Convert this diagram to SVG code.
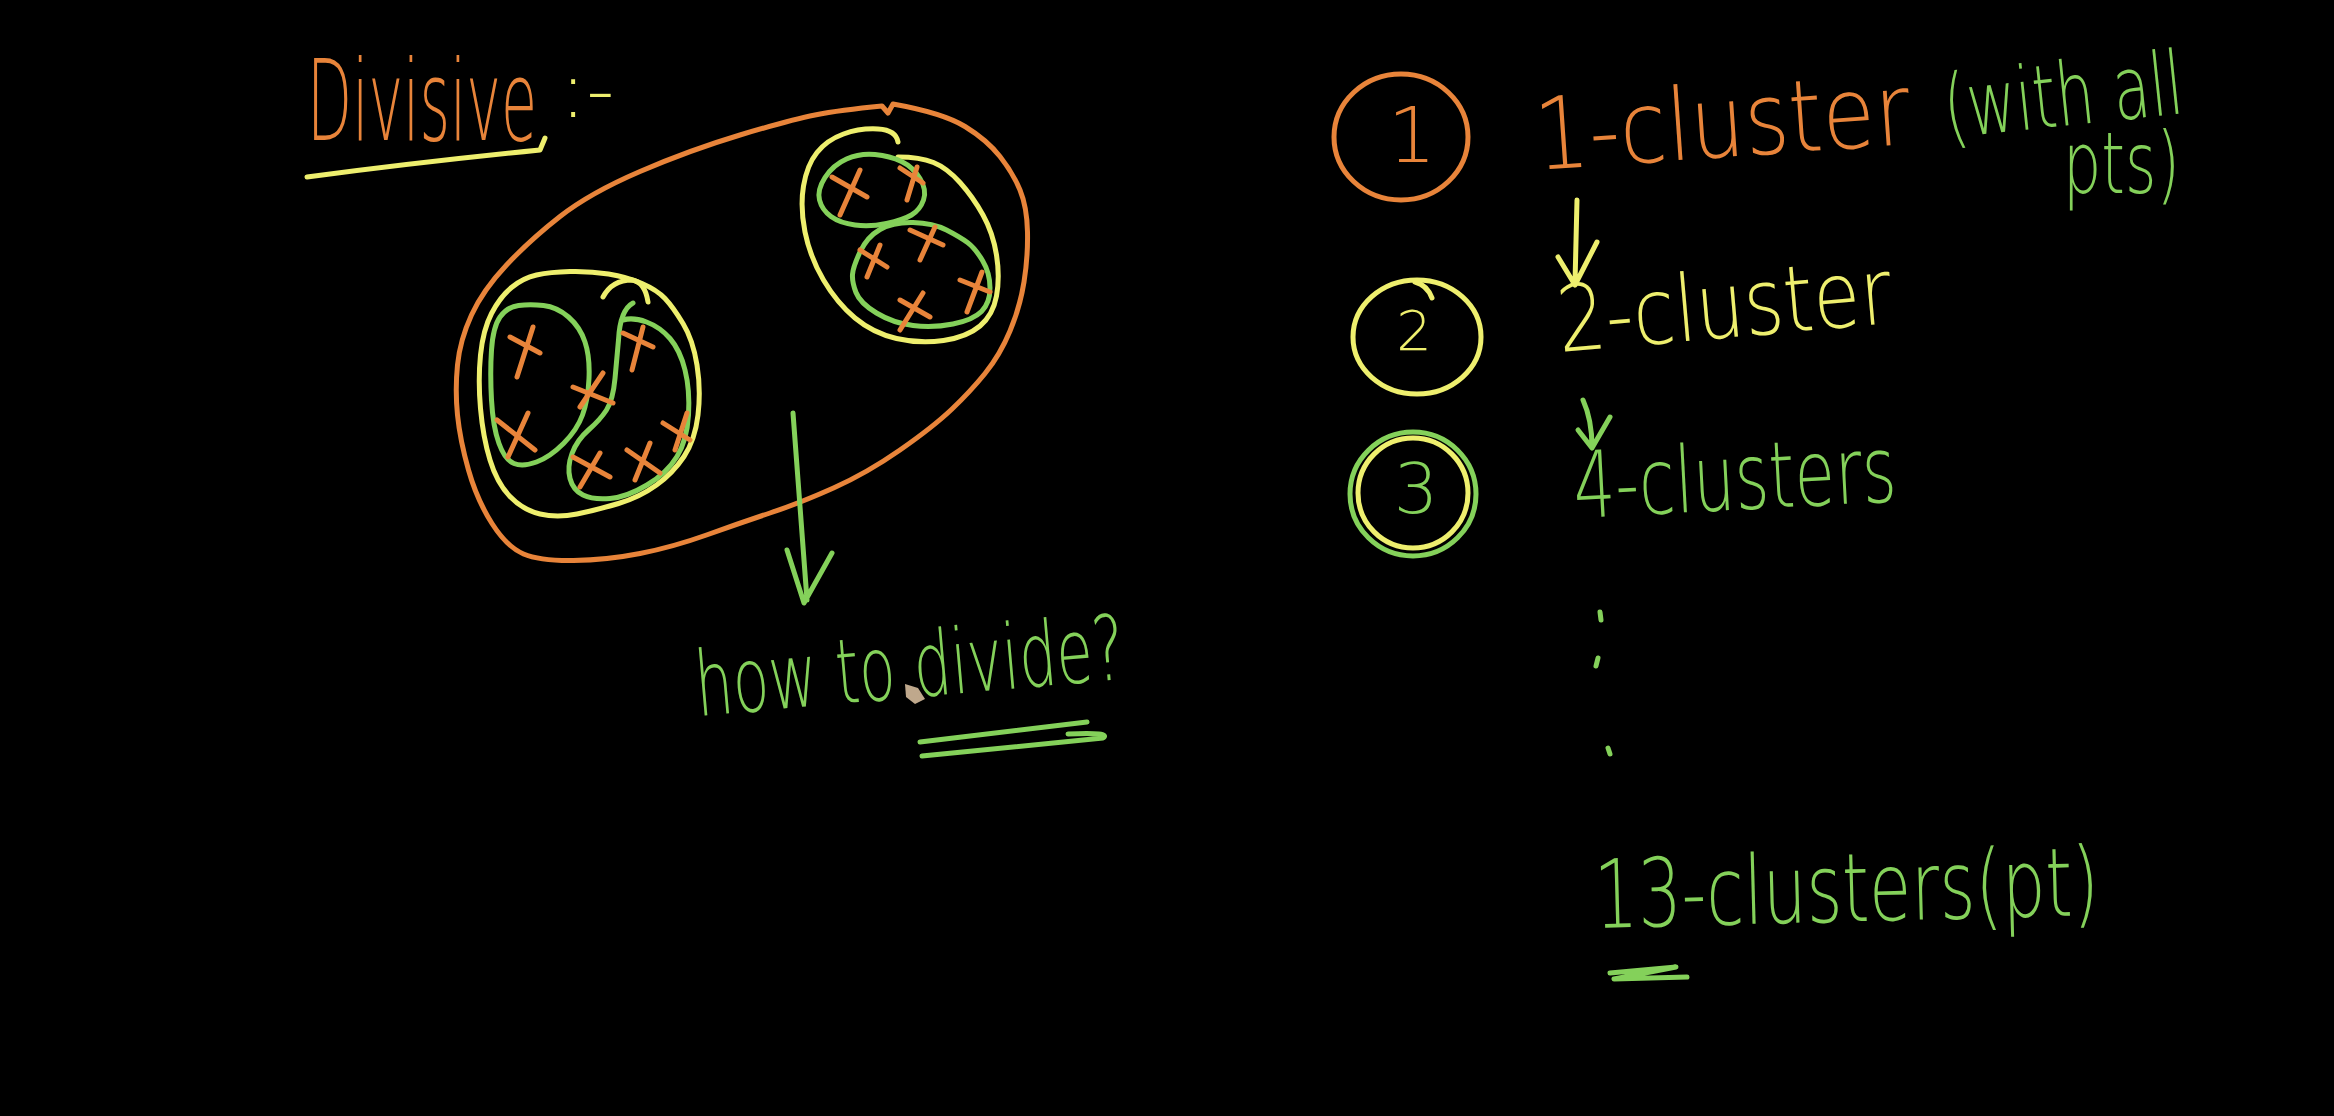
<svg xmlns="http://www.w3.org/2000/svg" width="2334" height="1116" viewBox="0 0 2334 1116">
<style>
.s{fill:none;stroke-width:5;stroke-linecap:round;stroke-linejoin:round}
.o{stroke:#E8843A}
.y{stroke:#EEEF6E}
.g{stroke:#84D15A}
.t{font-family:"DejaVu Sans","Liberation Sans",sans-serif;font-weight:200}
.to{fill:#E8843A}
.ty{fill:#EEEF6E}
.tg{fill:#84D15A}
</style>
<rect x="0" y="0" width="2334" height="1116" fill="#000"/>

<g id="title">
  <text class="t to" x="307" y="140" font-size="112" textLength="230" lengthAdjust="spacingAndGlyphs">Divisive</text>
  <text class="t ty" x="560" y="117" font-size="78">:-</text>
  <path class="s y" d="M307,177 Q420,162 540,150 L545,138"/>
</g>

<g id="cluster-all">
  <path class="s o" d="M888,113 L893,104 Q943,113 965,126.5 Q987,140 1000,156.5 Q1013,173 1020,190 Q1027,207 1027.5,232 Q1028,257 1024,282 Q1020,307 1010,331 Q1000,355 985,373.5 Q970,392 951.5,409.5 Q933,427 900,450 Q867,473 833.5,488 Q800,503 770,513 Q740,523 706.5,535 Q673,547 640,553.5 Q607,560 573.5,560.5 Q540,561 523.5,554 Q507,547 492,523.5 Q477,500 468.5,470 Q460,440 457.5,415 Q455,390 457.5,365 Q460,340 471.5,315 Q483,290 506.5,265 Q530,240 560,216.5 Q590,193 640,171.5 Q690,150 740,135 Q790,120 815,115 Q840,110 882,106 L888,113"/>
</g>

<g id="cluster-left">
  <path class="s y" d="M536.5,275 Q550,272 570,271.5 Q590,271 608.5,274 Q627,277 642,283.5 Q657,290 665,298.5 Q673,307 683,323.5 Q693,340 697,365 Q701,390 698,415 Q695,440 684,456.5 Q673,473 656.5,485 Q640,497 618.5,503.5 Q597,510 577,514 Q557,518 540,514 Q523,510 510,496.5 Q497,483 490,460 Q483,437 480.5,408.5 Q478,380 480.5,355 Q483,330 491.5,313.5 Q500,297 511.5,287.5 Q523,278 536.5,275 Z"/>
  <path class="s y" d="M603,297 Q612,280 632,280 Q645,282 648,302"/>
  <path class="s g" d="M518.5,305.5 Q530,304 543.5,305.5 Q557,307 568.5,317 Q580,327 585,342 Q590,357 589,378.5 Q588,400 582.5,415 Q577,430 563.5,443.5 Q550,457 536.5,462 Q523,467 514,463.5 Q505,460 499,443.5 Q493,427 491.5,400 Q490,373 491.5,350 Q493,327 500,317 Q507,307 518.5,305.5 Z"/>
  <path class="s g" d="M633,303 Q620,310 618.5,340 Q617,357 615,378.5 Q613,400 606.5,410 Q600,420 588.5,430 Q577,440 572,453.5 Q567,467 570,478.5 Q573,490 583,495 Q593,500 610,498.5 Q627,497 647,485 Q667,473 677,456.5 Q687,440 688.5,415 Q690,390 685,370 Q680,350 670,338.5 Q660,327 646.5,322 Q633,317 623,320"/>
  <path class="s o" d="M510,337 L540,353 M533,327 L517,377 M573,387 L613,403 M603,373 L580,407 M497,420 L535,450 M528,413 L508,457 M623,333 L653,347 M643,327 L632,370 M573,457 L610,477 M600,453 L580,487 M627,450 L660,473 M650,443 L635,480 M663,423 L690,440 M687,413 L675,450"/>
</g>

<g id="cluster-right">
  <path class="s y" d="M898,142 Q896,130 878,129 Q860,128 843.5,134 Q827,140 817,152.5 Q807,165 803.5,186 Q800,207 805,232 Q810,257 823.5,280 Q837,303 855,318 Q873,333 896.5,338.5 Q920,344 943.5,340.5 Q967,337 980,326 Q993,315 996.5,296 Q1000,277 996.5,255 Q993,233 983,215 Q973,197 960,182.5 Q947,168 933.5,162.5 Q920,157 898,157"/>
  <path class="s g" d="M819.5,200 Q817,190 825,177.5 Q833,165 846.5,159 Q860,153 875,154.5 Q890,156 901.5,161.5 Q913,167 920,178.5 Q927,190 923.5,200 Q920,210 911.5,215 Q903,220 886.5,223.5 Q870,227 855,225 Q840,223 831,216.5 Q822,210 819.5,200 Z"/>
  <path class="s g" d="M852.5,274.5 Q853,267 860,252 Q867,237 880,229.5 Q893,222 913,222.5 Q933,223 946.5,230 Q960,237 967.5,242.5 Q975,248 982.5,260.5 Q990,273 990,288 Q990,303 981.5,311.5 Q973,320 953,324 Q933,328 913,325.5 Q893,323 876.5,313 Q860,303 856,292.5 Q852,282 852.5,274.5 Z"/>
  <path class="s o" d="M832,177 L867,197 M860,170 L840,215 M900,168 L923,183 M917,167 L907,200 M910,230 L943,245 M935,227 L920,260 M860,250 L887,267 M880,245 L867,277 M960,280 L990,292 M982,272 L967,312 M900,300 L930,317 M923,293 L900,330"/>
</g>

<g id="how-to-divide">
  <text class="t tg" x="698" y="716" font-size="90" textLength="430" lengthAdjust="spacingAndGlyphs" transform="rotate(-5 698 716)">how to divide?</text>
  <path class="s g" d="M920,742 L1087,722 M922,756 L1103,738 Q1112,732 1068,734"/>
  <polygon points="905,684 918,688 925,699 915,704 906,697" fill="#bfa88c"/>
</g>

<g id="step-1">
  <ellipse class="s o" cx="1401" cy="137" rx="67" ry="63"/>
  <text class="t to" x="1412" y="162" font-size="76" text-anchor="middle">1</text>
  <text class="t to" x="1537" y="170" font-size="100" textLength="376" lengthAdjust="spacingAndGlyphs" transform="rotate(-4 1537 170)">1-cluster</text>
  <text class="t tg" x="1947" y="138" font-size="88" textLength="240" lengthAdjust="spacingAndGlyphs" transform="rotate(-6 1947 138)">(with all</text>
  <text class="t tg" x="2063" y="193" font-size="85" textLength="117" lengthAdjust="spacingAndGlyphs">pts)</text>
</g>

<g id="step-2">
  <ellipse class="s y" cx="1417" cy="337" rx="64" ry="57"/>
  <path class="s y" d="M1415,282 Q1427,285 1432,298"/>
  <text class="t ty" x="1414" y="350" font-size="56" text-anchor="middle">2</text>
  <text class="t ty" x="1560" y="352" font-size="92" textLength="335" lengthAdjust="spacingAndGlyphs" transform="rotate(-5 1560 352)">2-cluster</text>
</g>

<g id="step-3">
  <ellipse class="s g" cx="1413" cy="494" rx="63" ry="62"/>
  <ellipse class="s y" cx="1413" cy="493" rx="55" ry="55"/>
  <text class="t tg" x="1416" y="513" font-size="70" text-anchor="middle">3</text>
  <text class="t tg" x="1575" y="518" font-size="92" textLength="323" lengthAdjust="spacingAndGlyphs" transform="rotate(-3 1575 518)">4-clusters</text>
</g>

<g id="ellipsis">
  <path class="s g" d="M1600,612 L1601,620 M1598,658 L1596,666 M1608,748 L1610,754"/>
</g>

<g id="step-final">
  <text class="t tg" x="1595" y="928" font-size="95" textLength="505" lengthAdjust="spacingAndGlyphs" transform="rotate(-1.5 1595 928)">13-clusters(pt)</text>
  <path class="s g" d="M1610,973 L1676,967 L1614,979 L1687,977"/>
</g>

<g id="connectors">
  <path class="s g" d="M793,413 L807,600 M787,550 L804,603 L832,553"/>
  <path class="s y" d="M1577,200 L1575,283 M1558,257 L1575,285 L1597,242"/>
  <path class="s g" d="M1583,400 Q1592,420 1592,447 M1578,430 L1592,448 L1610,417"/>
</g>
</svg>
